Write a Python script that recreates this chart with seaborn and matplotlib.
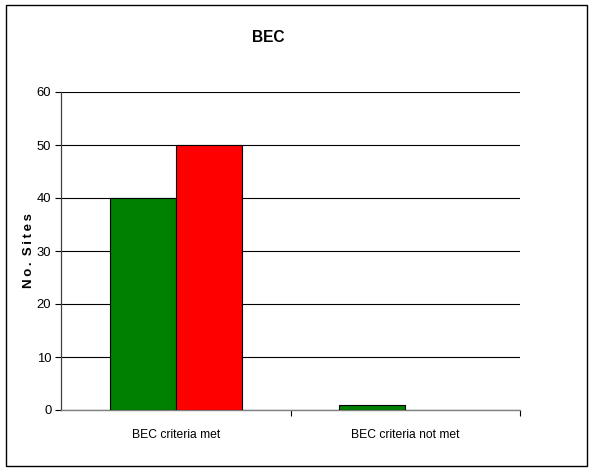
import matplotlib
matplotlib.use("Agg")
import matplotlib.pyplot as plt
import seaborn as sns
import pandas as pd
from matplotlib.patches import Rectangle

categories = ["BEC criteria met", "BEC criteria not met"]
series_names = ["Series A", "Series B"]
series_a = [40, 1]
series_b = [50, 0]
y_ticks = [0, 10, 20, 30, 40, 50, 60]

df = pd.DataFrame({
    "category": categories * 2,
    "series": [series_names[0]] * 2 + [series_names[1]] * 2,
    "sites": series_a + series_b,
})

sns.set_theme(style="white")
plt.rcParams["font.family"] = ["Liberation Sans", "DejaVu Sans"]
plt.rcParams["text.color"] = "black"
plt.rcParams["xtick.color"] = "black"
plt.rcParams["ytick.color"] = "black"
plt.rcParams["axes.labelcolor"] = "black"

fig = plt.figure(figsize=(5.95, 4.68), dpi=100)
ax = fig.add_axes([61 / 595, 1 - 410 / 468, (520 - 61) / 595, (410 - 92) / 468])

sns.barplot(data=df, x="category", y="sites", hue="series",
            palette=["#008000", "#FF0000"], width=0.574, dodge=True,
            edgecolor="black", linewidth=0.8, saturation=1,
            legend=False, ax=ax, zorder=3)

# a zero-height bar leaves no visible outline
for bar in ax.patches:
    if bar.get_height() == 0:
        bar.set_linewidth(0)

ax.set_xlim(-0.5, 1.5)
ax.set_ylim(0, 60)
ax.set_yticks(y_ticks)
ax.yaxis.grid(True, color="black", linewidth=0.8, zorder=0)
ax.set_axisbelow(True)

ax.set_xticks([0.5, 1.5], minor=False)
ax.set_xticks([0, 1], minor=True)
ax.set_xticklabels([])
ax.set_xticklabels(categories, minor=True)
ax.tick_params(axis="x", which="major", length=4, width=0.8, color="black", direction="out", bottom=True)
ax.tick_params(axis="x", which="minor", length=0, labelsize=8.7, pad=14)
ax.tick_params(axis="y", length=4, width=0.8, color="black", direction="out", left=True, labelsize=9.4, pad=3)

for side in ["top", "right"]:
    ax.spines[side].set_visible(False)
ax.spines["left"].set_color("#404040")
ax.spines["left"].set_linewidth(0.9)
ax.spines["bottom"].set_color("#808080")
ax.spines["bottom"].set_linewidth(1.0)

ax.set_xlabel("")
ax.set_ylabel("N\u2009o\u2009.\u2009 S\u2009i\u2009t\u2009e\u2009s", fontsize=9.5, fontweight="bold")
ax.yaxis.set_label_coords(-26 / 459, 0.5)

fig.text(268 / 595, 1 - 38 / 468, "BEC", ha="center", va="center",
         fontsize=11.2, fontweight="bold")

fig.patches.append(Rectangle((6 / 595, 2 / 468), 581 / 595, 461 / 468,
                             transform=fig.transFigure, fill=False,
                             edgecolor="black", linewidth=1.0))

fig.savefig("out.png", dpi=100)
